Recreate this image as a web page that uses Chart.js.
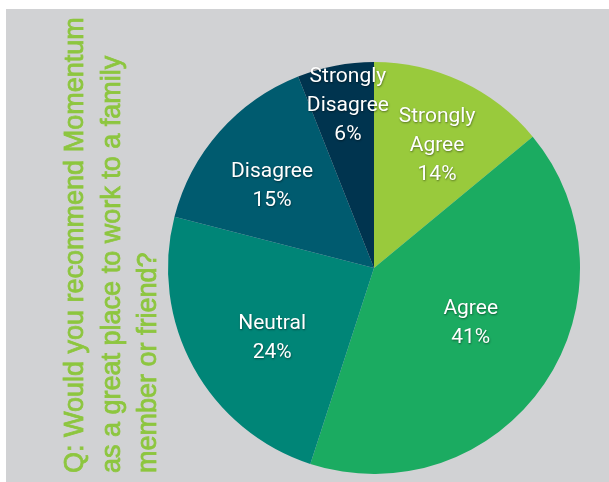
<!DOCTYPE html>
<html>
<head>
<meta charset="utf-8">
<title>Recommend Momentum</title>
<script src="https://cdn.jsdelivr.net/npm/chart.js@4/dist/chart.umd.min.js"></script>
<style>
    html, body { margin: 0; padding: 0; background: #ffffff; }
    #chart { display: block; }
</style>
</head>
<body>
<canvas id="chart" width="609" height="482"></canvas>
<script>
// Survey answers, clockwise from 12 o'clock
const answers = ['Strongly Agree', 'Agree', 'Neutral', 'Disagree', 'Strongly Disagree'];
const shares = [14, 41, 24, 15, 6];
const titleLines = ['Q: Would you recommend Momentum', 'as a great place to work to a family', 'member or friend?'];

const sliceColors = ['#99ca3c', '#1bab61', '#008577', '#005b6f', '#00344f'];
// where each label sits: fraction of the radius, and a small turn (deg) off the slice middle
const labelSpots = [
    { r: 0.667, turn: 2.1 },
    { r: 0.54, turn: -4.6 },
    { r: 0.60, turn: -5.7 },
    { r: 0.635, turn: -2.6 },
    { r: 0.80, turn: 1.7 }
];

//==== Grey panel behind everything ====//
const panel = {
    id: 'panel',
    beforeDraw(c) {
        const ctx = c.ctx;
        ctx.save();
        ctx.fillStyle = '#d1d2d4';
        ctx.fillRect(6, 9, c.width - 6, c.height - 9);
        ctx.restore();
    }
};

//==== Slice labels ====//
const sliceLabels = {
    id: 'sliceLabels',
    afterDatasetsDraw(c) {
        const ctx = c.ctx;
        const arcs = c.getDatasetMeta(0).data;
        ctx.save();
        ctx.font = '21px Roboto';
        ctx.fillStyle = '#ffffff';
        ctx.textAlign = 'center';
        ctx.textBaseline = 'middle';
        ctx.shadowColor = 'rgba(0,0,0,0.45)';
        ctx.shadowBlur = 2;
        ctx.shadowOffsetX = 0.5;
        ctx.shadowOffsetY = 1;
        arcs.forEach((arc, i) => {
            const p = arc.getProps(['x', 'y', 'startAngle', 'endAngle', 'outerRadius']);
            const spot = labelSpots[i];
            const mid = (p.startAngle + p.endAngle) / 2 + spot.turn * Math.PI / 180;
            const cx = p.x + Math.cos(mid) * p.outerRadius * spot.r;
            const cy = p.y + Math.sin(mid) * p.outerRadius * spot.r;
            const lines = answers[i].split(' ').concat(shares[i] + '%');
            const step = 29;
            const top = cy - (lines.length - 1) * step / 2;
            lines.forEach((t, k) => ctx.fillText(t, cx, top + k * step));
        });
        ctx.restore();
    }
};

//==== Rotated question on the left ====//
const sideTitle = {
    id: 'sideTitle',
    afterDraw(c) {
        const ctx = c.ctx;
        ctx.save();
        ctx.font = '27px "Liberation Sans", Arial, sans-serif';
        ctx.fillStyle = '#8dc63f';
        ctx.strokeStyle = '#8dc63f';
        ctx.lineWidth = 0.8;
        ctx.textAlign = 'left';
        ctx.textBaseline = 'alphabetic';
        titleLines.forEach((t, k) => {
            ctx.save();
            ctx.translate(83 + k * 36.5, 473);
            ctx.rotate(-Math.PI / 2);
            ctx.fillText(t, 0, 0);
            ctx.strokeText(t, 0, 0);
            ctx.restore();
        });
        ctx.restore();
    }
};

new Chart(document.querySelector('#chart'), {
    type: 'pie',
    data: {
        labels: answers,
        datasets: [{
            data: shares,
            backgroundColor: sliceColors,
            borderWidth: 0
        }]
    },
    options: {
        responsive: false,
        devicePixelRatio: 1,
        animation: false,
        layout: { padding: { top: 62, bottom: 8, left: 168, right: 29 } },
        plugins: {
            legend: { display: false },
            tooltip: { enabled: false }
        }
    },
    plugins: [panel, sliceLabels, sideTitle]
});
</script>
</body>
</html>
